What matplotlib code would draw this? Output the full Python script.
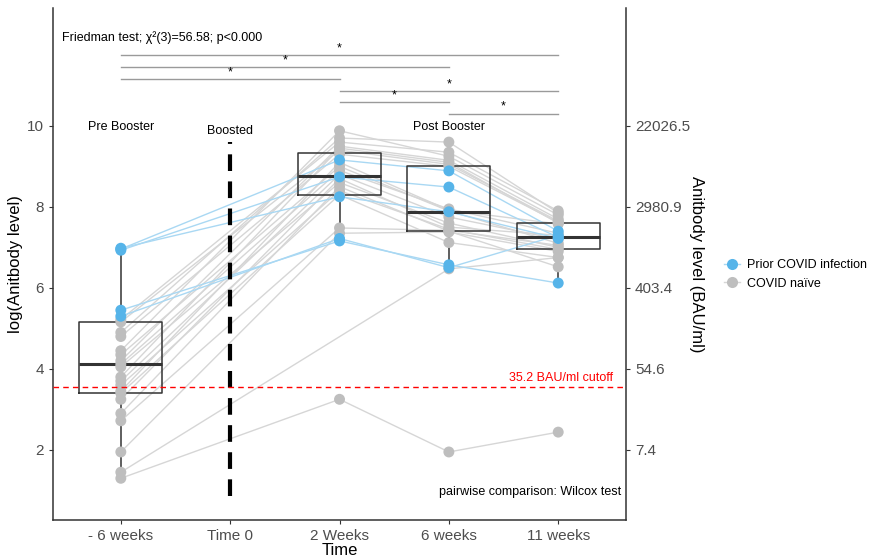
import numpy as np
import matplotlib
matplotlib.use("Agg")
import matplotlib.pyplot as plt
from matplotlib.lines import Line2D

plt.rcParams['font.family'] = ['Liberation Sans', 'DejaVu Sans']

# time points (Time 0 has no measurements, only the booster marker)
time_labels = ["- 6 weeks", "Time 0", "2 Weeks", "6 weeks", "11 weeks"]
measured_pos = [0, 2, 3, 4]

# log(antibody level) per subject at -6w, 2w, 6w, 11w
prior_infection = [
    [6.96, 9.16, 8.89, 7.40],
    [6.93, 8.74, 8.49, 7.25],
    [6.98, 8.25, 7.88, 7.22],
    [5.45, 7.16, 6.57, 6.12],
    [5.30, 7.22, 6.50, 7.30],
]
covid_naive = [
    [5.22, 9.60, 9.35, 7.90],
    [5.16, 9.40, 9.05, 7.65],
    [4.90, 9.70, 9.60, 7.85],
    [4.80, 9.30, 9.00, 7.62],
    [4.45, 9.88, 9.25, 7.80],
    [4.35, 9.00, 7.90, 7.10],
    [4.20, 9.50, 9.15, 7.70],
    [4.12, 8.90, 7.95, 7.35],
    [4.05, 8.60, 7.60, 7.00],
    [3.80, 9.45, 9.10, 7.60],
    [3.70, 8.80, 7.75, 7.20],
    [3.60, 8.40, 7.45, 6.95],
    [3.45, 9.10, 7.92, 7.58],
    [3.40, 8.30, 7.12, 6.75],
    [3.25, 8.70, 7.50, 7.30],
    [2.90, 8.50, 7.40, 6.52],
    [2.72, 7.48, 7.42, 7.05],
    [1.95, 7.35, 7.38, 6.90],
    [1.45, np.nan, 6.47, 6.75],
    [1.30, 3.25, 1.95, 2.44],
]

cutoff = np.log(35.2)
y_ticks = [2, 4, 6, 8, 10]
bau_labels = ["7.4", "54.6", "403.4", "2980.9", "22026.5"]

# significance brackets: (start, end, height)
brackets = [(0, 4, 11.75), (0, 3, 11.46), (0, 2, 11.16),
            (2, 4, 10.86), (2, 3, 10.59), (3, 4, 10.30)]

blue = "#56B4E9"
blue_line = "#A9D8F3"
grey = "#BEBEBE"
grey_line = "#D6D6D6"
dark = "#333333"

fig = plt.figure(figsize=(8.78, 5.57), dpi=100)
ax = fig.add_axes([0.0604, 0.0664, 0.6526, 0.9192])

all_data = np.array(prior_infection + covid_naive)

# subject lines
for rows, lc in [(covid_naive, grey_line), (prior_infection, blue_line)]:
    for r in rows:
        r = np.array(r, dtype=float)
        ok = ~np.isnan(r)
        ax.plot(np.array(measured_pos)[ok], r[ok], color=lc, lw=1, zorder=2)

# boxplots
box_data = [col[~np.isnan(col)] for col in all_data.T]
ax.boxplot(box_data, positions=measured_pos, widths=0.76, whis=1.5,
           showfliers=False, showcaps=False, patch_artist=False,
           boxprops=dict(color=dark, lw=1.1),
           whiskerprops=dict(color=dark, lw=1.1),
           medianprops=dict(color=dark, lw=2.2),
           zorder=3)

# points
for rows, pc in [(covid_naive, grey), (prior_infection, blue)]:
    for r in rows:
        r = np.array(r, dtype=float)
        ok = ~np.isnan(r)
        ax.scatter(np.array(measured_pos)[ok], r[ok], s=62, color=pc,
                   edgecolors='none', zorder=4)

# booster marker and cutoff
ax.plot([1, 1], [0.86, 9.6], color='black', lw=3, ls=(0, (4, 2.5)), zorder=5)
ax.axhline(cutoff, color='red', lw=1, ls=(0, (4, 3)), zorder=5)
ax.text(4.5, cutoff + 0.07, "35.2 BAU/ml cutoff", color='red', fontsize=9,
        ha='right', va='bottom')

# significance brackets
for x0, x1, h in brackets:
    ax.plot([x0, x1], [h, h], color='#9A9A9A', lw=1)
    ax.text((x0 + x1) / 2, h + 0.02, "*", ha='center', va='bottom', fontsize=9)

ax.text(-0.54, 12.17, "Friedman test; χ²(3)=56.58; p<0.000", fontsize=9,
        ha='left', va='center')
ax.text(0, 9.98, "Pre Booster", fontsize=9, ha='center', va='center')
ax.text(1, 9.88, "Boosted", fontsize=9, ha='center', va='center')
ax.text(3, 9.98, "Post Booster", fontsize=9, ha='center', va='center')
ax.text(4.58, 0.96, "pairwise comparison: Wilcox test", fontsize=9,
        ha='right', va='center')

ax.set_xlim(-0.62, 4.62)
ax.set_ylim(0.27, 12.91)
ax.set_xticks(range(len(time_labels)))
ax.set_xticklabels(time_labels)
ax.set_yticks(y_ticks)
ax.set_xlabel("Time", fontsize=12, labelpad=0)
ax.set_ylabel("log(Anitbody level)", fontsize=12, labelpad=3)
ax.tick_params(colors=dark, labelcolor='#4D4D4D', labelsize=11, length=3)
for s in ['top', 'right']:
    ax.spines[s].set_visible(False)
for s in ['left', 'bottom']:
    ax.spines[s].set_color(dark)
    ax.spines[s].set_linewidth(1.1)

ax2 = ax.twinx()
ax2.set_ylim(ax.get_ylim())
ax2.set_yticks(y_ticks)
ax2.set_yticklabels(bau_labels)
ax2.set_ylabel("Anitbody level (BAU/ml)", fontsize=12, rotation=270, labelpad=10)
ax2.tick_params(colors=dark, labelcolor='#4D4D4D', labelsize=11, length=3)
for s in ['top', 'left', 'bottom']:
    ax2.spines[s].set_visible(False)
ax2.spines['right'].set_color(dark)
ax2.spines['right'].set_linewidth(1.1)

handles = [
    Line2D([], [], color=blue_line, marker='o', markersize=8,
           markerfacecolor=blue, markeredgecolor='none', lw=1),
    Line2D([], [], color=grey_line, marker='o', markersize=8,
           markerfacecolor=grey, markeredgecolor='none', lw=1),
]
fig.legend(handles, ["Prior COVID infection", "COVID naïve"],
           loc='center left', bbox_to_anchor=(0.812, 0.507), frameon=False,
           fontsize=9, handlelength=1.3, handletextpad=0.5, labelspacing=0.5)

fig.savefig("out.png", dpi=100)
